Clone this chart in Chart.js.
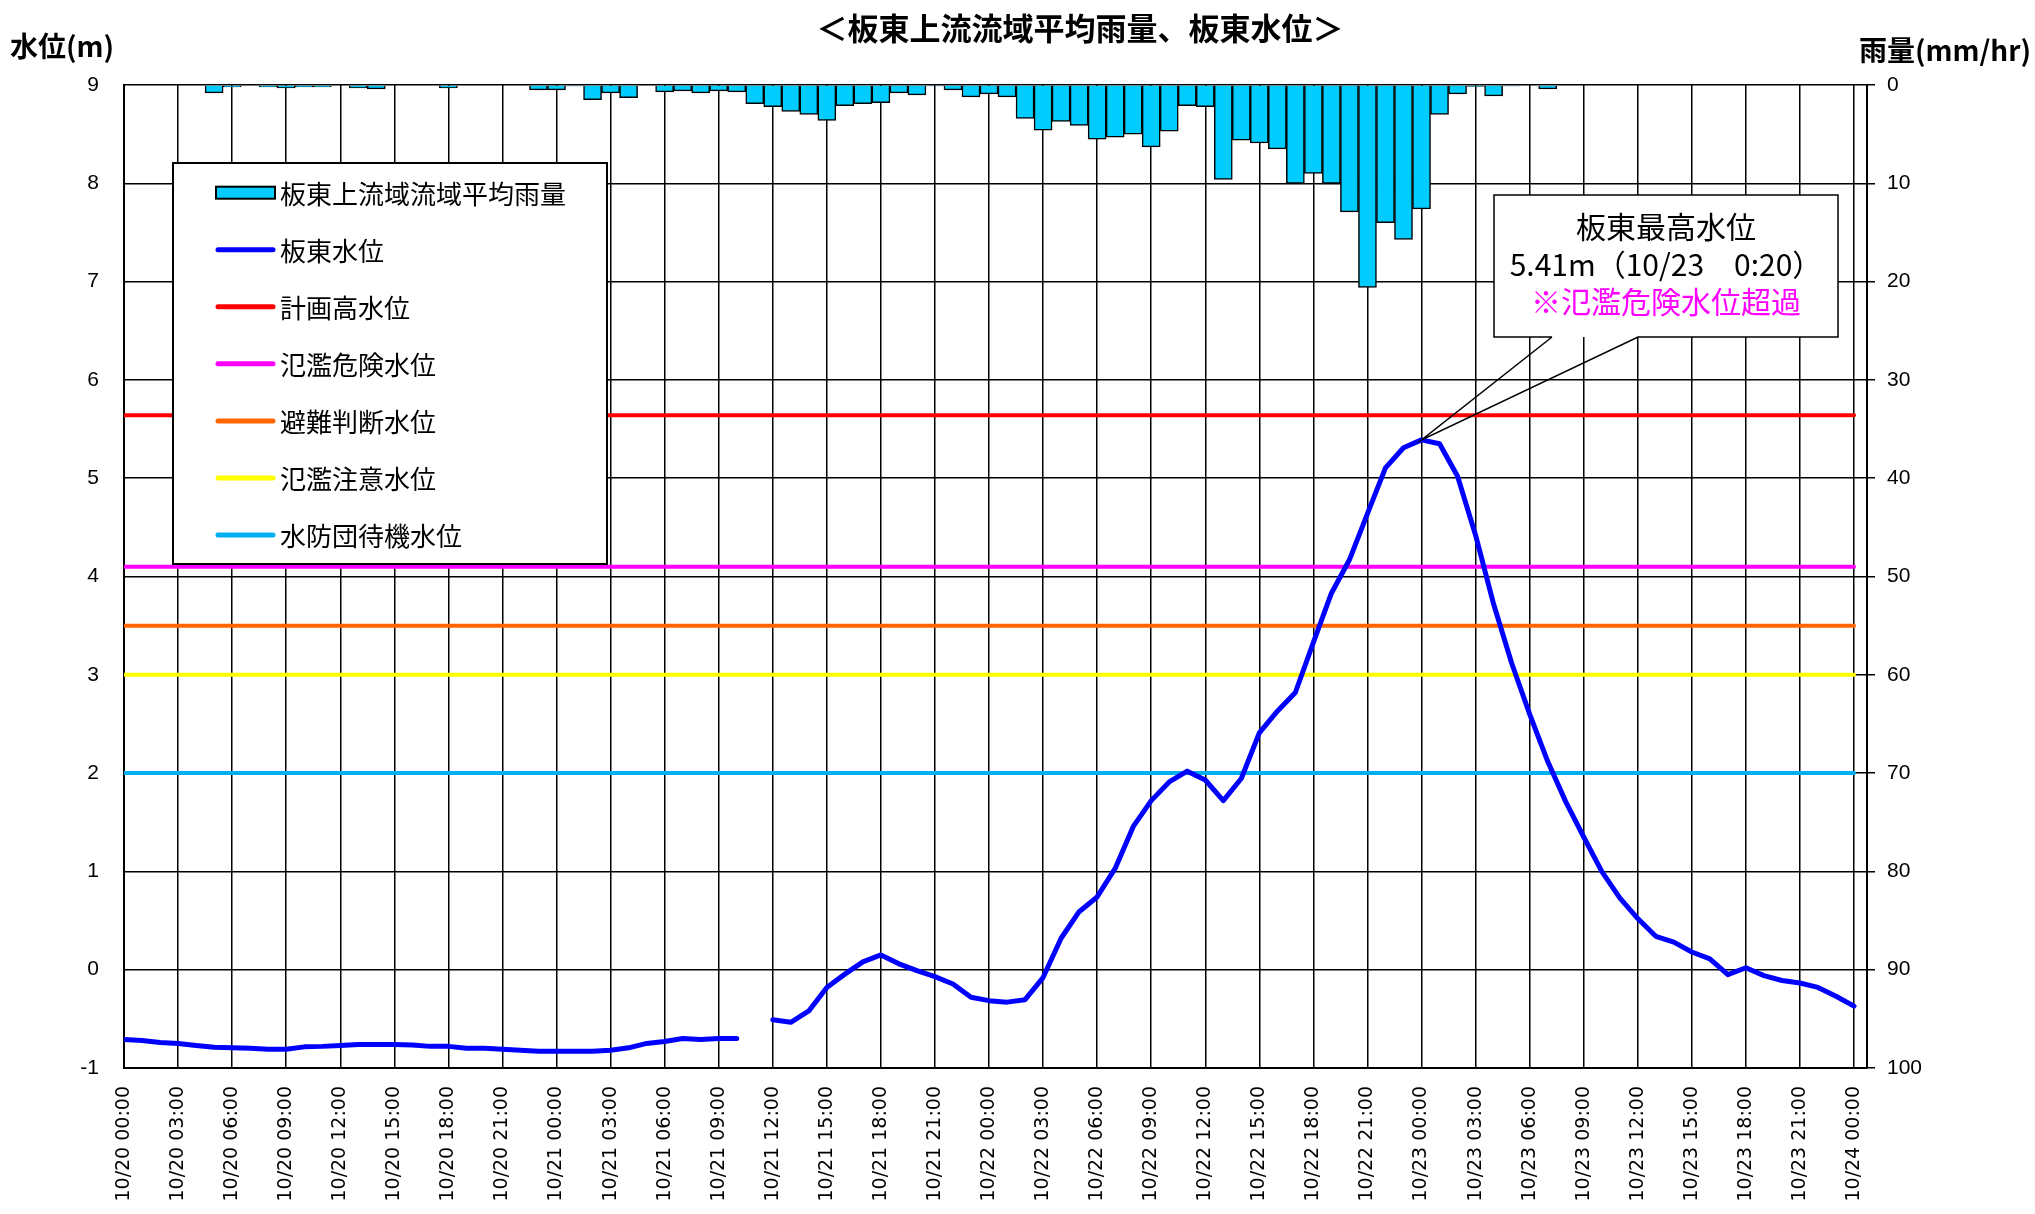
<!DOCTYPE html>
<html lang="ja">
<head>
<meta charset="utf-8">
<title>板東上流流域平均雨量、板東水位</title>
<script src="https://cdn.jsdelivr.net/npm/chart.js@4.4.1/dist/chart.umd.min.js"></script>
<style>
  html, body { margin: 0; padding: 0; background: #fff; }
  #grafico { display: block; }
</style>
</head>
<body>
<canvas id="grafico" width="2035" height="1214"></canvas>
<script>
// index = 10/20 00:00 からの経過時間(h)
const rain = [
  0, 0, 0, 0, 0, 0.8, 0.2, 0, 0.2, 0.3,
  0.2, 0.2, 0, 0.3, 0.4, 0, 0, 0, 0.3, 0,
  0, 0, 0, 0.5, 0.5, 0.1, 1.5, 0.8, 1.3, 0,
  0.7, 0.6, 0.8, 0.6, 0.7, 1.9, 2.2, 2.7, 3.0, 3.6,
  2.1, 1.9, 1.8, 0.8, 1.0, 0.1, 0.5, 1.2, 0.9, 1.2,
  3.4, 4.6, 3.7, 4.1, 5.5, 5.3, 5.0, 6.3, 4.7, 2.1,
  2.2, 9.6, 5.6, 5.9, 6.5, 10.0, 9.0, 10.0, 12.9, 20.6,
  14.0, 15.7, 12.6, 3.0, 0.9, 0.15, 1.1, 0.1, 0, 0.4,
  0, 0, 0, 0, 0, 0, 0, 0, 0, 0,
  0, 0, 0, 0, 0, 0, 0
]

const level = [
  -0.71, -0.72, -0.74, -0.75, -0.77, -0.79, -0.795, -0.80, -0.81, -0.81,
  -0.785, -0.78, -0.77, -0.76, -0.76, -0.76, -0.765, -0.78, -0.78, -0.80,
  -0.80, -0.81, -0.82, -0.83, -0.83, -0.83, -0.83, -0.82, -0.795, -0.75,
  -0.73, -0.70, -0.71, -0.70, -0.70, null, -0.51, -0.535, -0.42, -0.18,
  -0.045, 0.08, 0.15, 0.06, -0.01, -0.07, -0.145, -0.28, -0.315, -0.33,
  -0.305, -0.08, 0.32, 0.59, 0.74, 1.03, 1.455, 1.72, 1.91, 2.02,
  1.93, 1.72, 1.945, 2.41, 2.63, 2.82, 3.33, 3.83, 4.17, 4.64,
  5.105, 5.31, 5.39, 5.35, 5.02, 4.42, 3.72, 3.12, 2.60, 2.12,
  1.71, 1.35, 1.0, 0.73, 0.52, 0.34, 0.28, 0.18, 0.11, -0.05,
  0.02, -0.06, -0.11, -0.135, -0.18, -0.27, -0.37
]

const tickLabels = [
  '10/20 00:00', '10/20 03:00', '10/20 06:00', '10/20 09:00', '10/20 12:00', '10/20 15:00', '10/20 18:00', '10/20 21:00',
  '10/21 00:00', '10/21 03:00', '10/21 06:00', '10/21 09:00', '10/21 12:00', '10/21 15:00', '10/21 18:00', '10/21 21:00',
  '10/22 00:00', '10/22 03:00', '10/22 06:00', '10/22 09:00', '10/22 12:00', '10/22 15:00', '10/22 18:00', '10/22 21:00',
  '10/23 00:00', '10/23 03:00', '10/23 06:00', '10/23 09:00', '10/23 12:00', '10/23 15:00', '10/23 18:00', '10/23 21:00',
  '10/24 00:00'
]

const thresholdNames = ['計画高水位', '氾濫危険水位', '避難判断水位', '氾濫注意水位', '水防団待機水位']
const thresholdValues = [5.64, 4.1, 3.5, 3.0, 2.0]
const thresholdColors = ['#ff0000', '#ff00ff', '#ff6600', '#ffff00', '#00b0f0']

const peakText = ['板東最高水位', '5.41m（10/23　0:20）', '※氾濫危険水位超過']

const lastHour = rain.length - 1

Chart.defaults.font.family = "'Liberation Sans', 'Noto Sans CJK JP', sans-serif"
Chart.defaults.color = '#000'

let datasets = [{
  label: '板東水位',
  data: level.map((v, i) => ({x: i, y: v})),
  borderColor: '#0000ff',
  borderWidth: 5,
  borderJoinStyle: 'round',
  borderCapStyle: 'round',
  pointRadius: 0,
  yAxisID: 'y',
  order: 0
}]

thresholdNames.forEach((nombre, i) => {
  datasets.push({
    label: nombre,
    data: [{x: 0, y: thresholdValues[i]}, {x: lastHour, y: thresholdValues[i]}],
    borderColor: thresholdColors[i],
    borderWidth: 4,
    borderCapStyle: 'round',
    pointRadius: 0,
    yAxisID: 'y',
    order: 1
  })
})

datasets.push({
  type: 'bar',
  label: '板東上流域流域平均雨量',
  data: rain.map((v, i) => ({x: i, y: v})),
  backgroundColor: '#00ccff',
  borderColor: '#000',
  borderWidth: 1.5,
  barPercentage: 1,
  categoryPercentage: 1,
  yAxisID: 'y2',
  order: 2
})

// leyenda, globo del maximo y textos de cabecera
const extras = {
  id: 'extras',
  afterDatasetsDraw(chart) {
    const ctx = chart.ctx
    const ds = chart.data.datasets

    // leyenda
    ctx.save()
    ctx.fillStyle = '#fff'
    ctx.fillRect(173, 163, 434, 401)
    ctx.strokeStyle = '#000'
    ctx.lineWidth = 2
    ctx.strokeRect(173, 163, 434, 401)
    const orden = [ds.length - 1, 0, 1, 2, 3, 4, 5]
    orden.forEach((k, n) => {
      const d = ds[k]
      const y = 192.7 + n * 57.05
      if (d.type === 'bar') {
        ctx.fillStyle = d.backgroundColor
        ctx.fillRect(216, y - 6, 59, 12)
        ctx.lineWidth = 2
        ctx.strokeStyle = '#000'
        ctx.strokeRect(216, y - 6, 59, 12)
      } else {
        ctx.beginPath()
        ctx.lineCap = 'round'
        ctx.lineWidth = 5
        ctx.strokeStyle = d.borderColor
        ctx.moveTo(218, y)
        ctx.lineTo(273, y)
        ctx.stroke()
      }
      ctx.fillStyle = '#000'
      ctx.font = "26px 'Noto Sans CJK JP'"
      ctx.textBaseline = 'middle'
      ctx.textAlign = 'left'
      ctx.fillText(d.label, 280, y + 1)
    })

    // globo del nivel maximo
    let iMax = 0
    level.forEach((v, i) => { if (v !== null && v > level[iMax]) iMax = i })
    const tipX = chart.scales.x.getPixelForValue(iMax)
    const tipY = chart.scales.y.getPixelForValue(level[iMax])
    const bx = 1494, by = 195, bw = 344, bh = 142
    ctx.fillStyle = '#fff'
    ctx.fillRect(bx, by, bw, bh)
    ctx.beginPath()
    ctx.lineCap = 'butt'
    ctx.lineJoin = 'miter'
    ctx.moveTo(1552, by + bh)
    ctx.lineTo(bx, by + bh)
    ctx.lineTo(bx, by)
    ctx.lineTo(bx + bw, by)
    ctx.lineTo(bx + bw, by + bh)
    ctx.lineTo(1638, by + bh)
    ctx.lineTo(tipX, tipY)
    ctx.lineTo(1552, by + bh)
    ctx.lineWidth = 1.5
    ctx.strokeStyle = '#000'
    ctx.stroke()
    ctx.textAlign = 'center'
    ctx.font = "30px 'Noto Sans CJK JP'"
    ctx.fillStyle = '#000'
    ctx.fillText(peakText[0], bx + bw / 2, 227)
    ctx.fillText(peakText[1], bx + bw / 2, 265)
    ctx.fillStyle = '#ff00ff'
    ctx.fillText(peakText[2], bx + bw / 2, 302)
    ctx.restore()
  },
  afterDraw(chart) {
    const ctx = chart.ctx
    ctx.save()
    ctx.fillStyle = '#000'
    ctx.textBaseline = 'middle'
    ctx.font = "bold 31px 'Noto Sans CJK JP'"
    ctx.textAlign = 'center'
    ctx.fillText('＜板東上流流域平均雨量、板東水位＞', 1080, 28)
    ctx.font = "bold 28px 'Noto Sans CJK JP'"
    ctx.textAlign = 'left'
    ctx.fillText('水位(m)', 10, 46)
    ctx.textAlign = 'right'
    ctx.fillText('雨量(mm/hr)', 2031, 50)
    ctx.restore()
  }
}

new Chart(document.getElementById('grafico').getContext('2d'), {
  type: 'line',
  data: { datasets: datasets },
  options: {
    responsive: false,
    animation: false,
    events: [],
    layout: { padding: { top: 85, left: 0, right: 0, bottom: 0 } },
    plugins: { legend: { display: false }, tooltip: { enabled: false }, title: { display: false } },
    scales: {
      x: {
        type: 'linear',
        min: 0,
        max: 96.72,
        offset: false,
        afterBuildTicks: s => { s.ticks = tickLabels.map((t, i) => ({value: i * 3})) },
        afterFit: s => { s.height = 146 },
        grid: { color: '#000', lineWidth: 1.5, drawTicks: false, offset: false },
        border: { color: '#000', width: 2 },
        ticks: {
          autoSkip: false,
          maxRotation: 90,
          minRotation: 90,
          padding: 18,
          font: { family: "'DejaVu Sans'", size: 19 },
          callback: (v, i) => tickLabels[i]
        }
      },
      y: {
        position: 'left',
        min: -1,
        max: 9,
        afterFit: s => { s.width = 124 },
        grid: { color: '#000', lineWidth: 1.5, drawTicks: false },
        border: { color: '#000', width: 2 },
        ticks: { stepSize: 1, padding: 25, font: { size: 21 } }
      },
      y2: {
        position: 'right',
        min: 0,
        max: 100,
        reverse: true,
        afterFit: s => { s.width = 168 },
        grid: { drawOnChartArea: false, color: '#000', lineWidth: 1.5, tickLength: 8 },
        border: { color: '#000', width: 2 },
        ticks: { stepSize: 10, padding: 12, font: { size: 21 } }
      }
    }
  },
  plugins: [extras]
})
</script>
</body>
</html>
